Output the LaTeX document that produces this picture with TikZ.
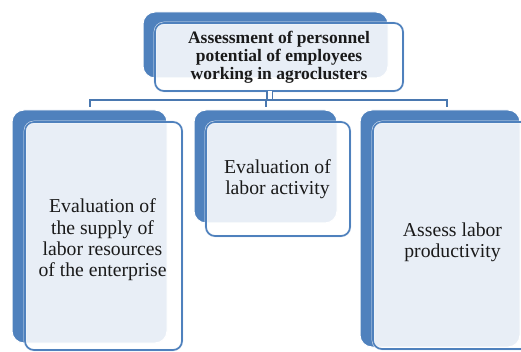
\documentclass[tikz,border=0pt]{standalone}
\usepackage{fontspec}
\setmainfont{Liberation Serif}
\definecolor{accent}{HTML}{4F81BD}
\definecolor{wire}{HTML}{4A78B0}
\definecolor{ink}{HTML}{1A1A1A}
\tikzset{
  backbox/.style={draw=white, line width=1pt, fill=accent, rounded corners=12pt,
    inner sep=0pt, outer sep=0pt},
  frontbox/.style={preaction={draw=white!85!accent, line width=2.6pt},
    draw=accent, line width=1.7pt, fill=white, fill opacity=0.87,
    rounded corners=9pt, inner sep=0pt, outer sep=0pt},
  boxtext/.style={text=ink, align=center, inner sep=0pt,
    font=\fontsize{19.7}{21.3}\selectfont},
  headtext/.style={text=ink, align=center, inner sep=0pt,
    font=\bfseries\fontsize{17.5}{18}\selectfont},
  conn/.style={draw=wire, line width=2pt},
  stem/.style={draw=wire, line width=1.2pt, double=white, double distance=4pt},
}
\begin{document}
\begin{tikzpicture}[x=1pt, y=-1pt]
  \useasboundingbox (0,0) rectangle (521,352);

  % blue back plates
  \node[backbox, minimum width=245pt, minimum height=66pt]  (tb) at (265.5,45) {};
  \node[backbox, minimum width=155pt, minimum height=233pt] (lb) at (89.5,226.5) {};
  \node[backbox, minimum width=143pt, minimum height=113pt] (mb) at (265.5,166.5) {};
  \node[backbox, minimum width=160pt, minimum height=237pt] (rb) at (440,228.5) {};

  % front panels
  \node[frontbox, minimum width=248pt, minimum height=68pt]  (tf) at (279,57) {};
  \node[frontbox, minimum width=157pt, minimum height=228pt] (lf) at (103.5,236) {};
  \node[frontbox, minimum width=144pt, minimum height=114pt] (mf) at (278,179) {};
  \node[frontbox, minimum width=167pt, minimum height=227pt] (rf) at (456.5,235.5) {};

  % labels
  \node[headtext] (tt) at (279,57.5) {Assessment of personnel\\potential of employees\\working in agroclusters};
  \node[boxtext] (lt) at (102.5,240) {Evaluation of\\the supply of\\labor resources\\of the enterprise};
  \node[boxtext] (mt) at (277.5,179.5) {Evaluation of\\labor activity};
  \node[boxtext] (rt) at (452.5,242.5) {Assess labor\\productivity};

  % connectors
  \coordinate (bus) at (269.5,100.5);
  \draw[stem] (tf.south -| bus) -- (bus);
  \draw[conn] ([yshift=3pt]lb.north) |- (bus) -| ([xshift=7pt,yshift=3pt]rb.north);
  \draw[conn] (bus -| mb.north) -- ([yshift=3pt]mb.north);
\end{tikzpicture}
\end{document}
